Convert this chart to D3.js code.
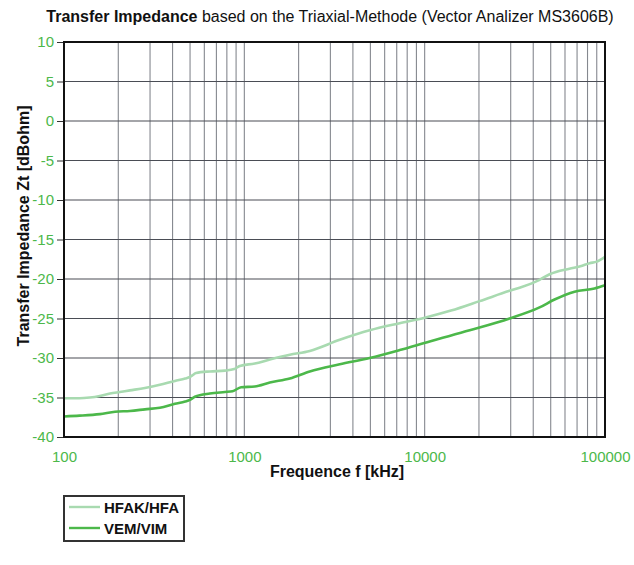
<!DOCTYPE html>
<html><head><meta charset="utf-8">
<script src="https://cdn.jsdelivr.net/npm/d3@7"></script>
<style>body{margin:0;background:#fff}svg{display:block}text{font-family:"Liberation Sans",Arial,sans-serif}</style>
</head><body><svg id="c" width="634" height="565"></svg>
<script>
const seriesNames = ["HFAK/HFA", "VEM/VIM"];
const xTicks = [100, 1000, 10000, 100000];
const yTicks = [10, 5, 0, -5, -10, -15, -20, -25, -30, -35, -40];
const hfakFreq = [100,122,139,158,180,204,232,281,340,412,470,499,515,540,644,780,880,944,1143,1385,1787,2306,3381,4955,7265,10000,14000,20170,29570,33600,43360,49300,63500,73000,82100,90000,100000];
const hfakVal  = [-35.1,-35.1,-35.0,-34.8,-34.5,-34.3,-34.1,-33.8,-33.4,-32.9,-32.6,-32.4,-32.2,-31.9,-31.7,-31.6,-31.4,-31.0,-30.7,-30.2,-29.6,-29.1,-27.7,-26.5,-25.6,-24.9,-24.0,-22.8,-21.5,-21.1,-20.1,-19.4,-18.7,-18.4,-18.0,-17.8,-17.2];
const vemFreq = [100,122,158,192,232,281,340,412,470,499,532,644,780,860,960,1143,1385,1787,2306,3381,4955,7265,10660,17760,29570,43360,52500,67800,87500,100000];
const vemVal  = [-37.4,-37.3,-37.1,-36.8,-36.7,-36.5,-36.3,-35.8,-35.5,-35.3,-34.9,-34.5,-34.3,-34.2,-33.7,-33.6,-33.1,-32.6,-31.7,-30.8,-30.0,-29.0,-27.9,-26.5,-25.0,-23.6,-22.6,-21.6,-21.2,-20.8];

const svg = d3.select("#c");
const L = 64, R = 605, T = 42, B = 437;
const x = d3.scaleLog().domain([100, 100000]).range([L, R]);
const y = d3.scaleLinear().domain([-40, 10]).range([B, T]);
const green = "#4cb84a", light = "#a8dab0";
const FF = '"Liberation Sans",Arial,sans-serif';

// vertical grid (minor + major)
const vgrid = [];
for (let d = 100; d < 100000; d *= 10) for (let k = 1; k <= 9; k++) vgrid.push(d * k);
svg.append("g").selectAll("line").data(vgrid.filter(v => v > 100)).join("line")
  .attr("x1", d => x(d)).attr("x2", d => x(d)).attr("y1", T).attr("y2", B)
  .attr("stroke", "#85888f").attr("stroke-width", 1.1);
svg.append("g").selectAll("line").data(yTicks.slice(1, -1)).join("line")
  .attr("x1", L).attr("x2", R).attr("y1", d => y(d)).attr("y2", d => y(d))
  .attr("stroke", "#4a4d55").attr("stroke-width", 1.1);

// y axis
const ya = svg.append("g").attr("transform", `translate(${L},0)`)
  .call(d3.axisLeft(y).tickValues(yTicks).tickFormat(d => String(d)).tickSize(7).tickPadding(3));
ya.select(".domain").remove();
ya.selectAll("line").attr("stroke", "#333");
ya.selectAll("text").attr("fill", green).style("font-size", "15px").style("font-family", FF);

// x axis labels
const xa = svg.append("g").attr("transform", `translate(0,${B})`)
  .call(d3.axisBottom(x).tickValues(xTicks).tickFormat(d => String(d)).tickSize(0).tickPadding(14));
xa.select(".domain").remove();
xa.selectAll("text").attr("fill", green).style("font-size", "15px").style("font-family", FF);

// lines
const line = d3.line().x(d => x(d[0])).y(d => y(d[1])).curve(d3.curveMonotoneX);
svg.append("path").datum(hfakFreq.map((f, i) => [f, hfakVal[i]]))
  .attr("d", line).attr("fill", "none").attr("stroke", light).attr("stroke-width", 2.6);
svg.append("path").datum(vemFreq.map((f, i) => [f, vemVal[i]]))
  .attr("d", line).attr("fill", "none").attr("stroke", green).attr("stroke-width", 2.6);

// frame
svg.append("rect").attr("x", L).attr("y", T).attr("width", R - L).attr("height", B - T)
  .attr("fill", "none").attr("stroke", "#111").attr("stroke-width", 2);

// title
const t = svg.append("text").attr("x", 330).attr("y", 22).attr("text-anchor", "middle")
  .style("font-size", "16px").attr("fill", "#111");
t.append("tspan").attr("font-weight", "bold").text("Transfer Impedance");
t.append("tspan").text(" based on the Triaxial-Methode (Vector Analizer MS3606B)");

// axis titles
svg.append("text").attr("x", 337).attr("y", 477).attr("text-anchor", "middle")
  .attr("font-weight", "bold").style("font-size", "16px").attr("fill", "#111").text("Frequence f [kHz]");
svg.append("text").attr("transform", "translate(29,226) rotate(-90)").attr("text-anchor", "middle")
  .attr("font-weight", "bold").style("font-size", "16px").attr("fill", "#111").text("Transfer Impedance Zt [dBohm]");

// legend
const lg = svg.append("g");
lg.append("rect").attr("x", 64).attr("y", 496).attr("width", 120).attr("height", 45)
  .attr("fill", "#fff").attr("stroke", "#333").attr("stroke-width", 2);
const cols = [light, green];
seriesNames.forEach((n, i) => {
  const yy = 507 + i * 21;
  lg.append("line").attr("x1", 69).attr("x2", 100).attr("y1", yy).attr("y2", yy)
    .attr("stroke", cols[i]).attr("stroke-width", 2.4);
  lg.append("text").attr("x", 104).attr("y", yy + 5.5).attr("font-weight", "bold")
    .style("font-size", "15px").attr("fill", "#111").text(n);
});
</script></body></html>
